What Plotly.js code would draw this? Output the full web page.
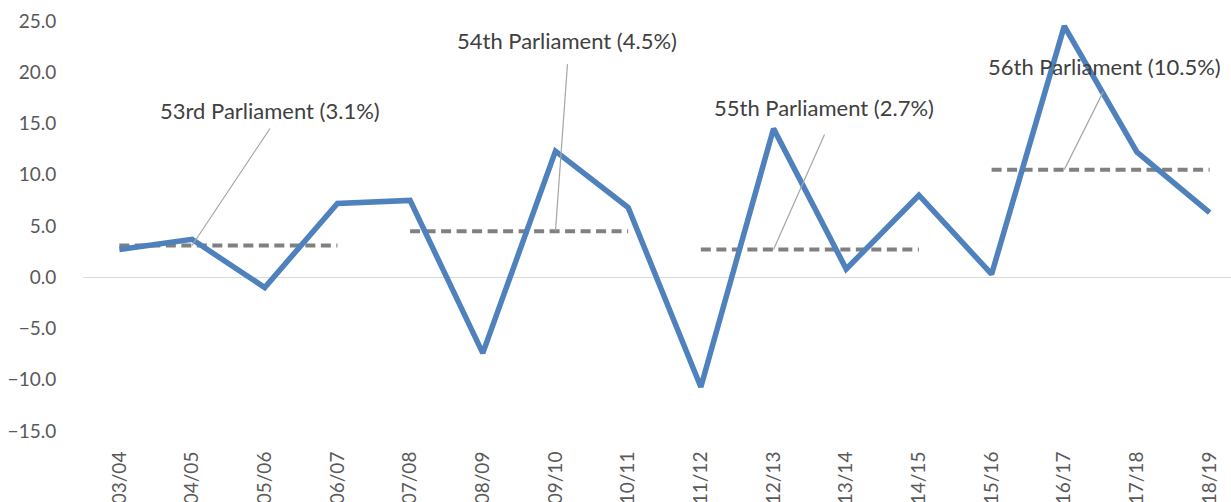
<!DOCTYPE html>
<html>
<head>
<meta charset="utf-8">
<script src="https://cdn.plot.ly/plotly-3.0.1.min.js"></script>
<style>
  html, body { margin: 0; padding: 0; overflow: hidden; background: #fff; }
  #chart { width: 1280px; height: 540px; }
</style>
</head>
<body>
<div id="chart"></div>
<script>
const years = ["2003/04","2004/05","2005/06","2006/07","2007/08","2008/09","2009/10","2010/11",
               "2011/12","2012/13","2013/14","2014/15","2015/16","2016/17","2017/18","2018/19"];
const growth = [2.7, 3.7, -1.0, 7.2, 7.5, -7.4, 12.3, 6.8, -10.7, 14.5, 0.8, 8.0, 0.3, 24.5, 12.2, 6.3];

const parliamentNames = ["53rd Parliament", "54th Parliament", "55th Parliament", "56th Parliament"];
const parliamentFirst = [0, 4, 8, 12];
const parliamentLast  = [3, 7, 11, 15];
const parliamentAvg   = [3.1, 4.5, 2.7, 10.5];
const labelAnchorYear = ["2004/05", "2009/10", "2012/13", "2016/17"];

// label placement (pixel offsets from the anchor point) – style, not data
const leaderDx = [78, 12, 51, 39];
const leaderDy = [117, 167, 115, 78];
const textDx   = [78, 12, 50, 40];
const textDy   = [135, 191, 142, 103];

const FONT = "Lato, 'Open Sans', sans-serif";

const traces = [];
parliamentNames.forEach((n, i) => {
  const xs = years.slice(parliamentFirst[i], parliamentLast[i] + 1);
  traces.push({
    x: xs,
    y: xs.map(() => parliamentAvg[i]),
    type: "scatter",
    mode: "lines",
    line: { color: "#808080", width: 4, dash: "10px,5.5px" },
    hoverinfo: "skip",
    showlegend: false
  });
});
traces.push({
  x: years,
  y: growth,
  type: "scatter",
  mode: "lines",
  line: { color: "#4f81bd", width: 5.5 },
  showlegend: false
});

const shapes = parliamentNames.map((n, i) => ({
  type: "line",
  xref: "x", yref: "y",
  xsizemode: "pixel", ysizemode: "pixel",
  xanchor: labelAnchorYear[i], yanchor: parliamentAvg[i],
  x0: 0, y0: 0, x1: leaderDx[i], y1: leaderDy[i],
  line: { color: "#a6a6a6", width: 1.2 }
}));

const annotations = parliamentNames.map((n, i) => ({
  x: labelAnchorYear[i], y: parliamentAvg[i],
  xref: "x", yref: "y",
  text: n + " (" + parliamentAvg[i].toFixed(1) + "%)",
  showarrow: false,
  xshift: textDx[i], yshift: textDy[i],
  xanchor: "center", yanchor: "middle",
  font: { family: FONT, size: 22, color: "#404040" }
}));

const layout = {
  width: 1280, height: 540,
  margin: { l: 82.6, r: 33.6, t: 21, b: 109 },
  paper_bgcolor: "#fff", plot_bgcolor: "#fff",
  showlegend: false,
  xaxis: {
    type: "category",
    range: [-0.5, 15.5],
    showgrid: false, zeroline: false, showline: false,
    tickangle: -90,
    ticks: "outside", ticklen: 12, tickcolor: "rgba(0,0,0,0)",
    tickfont: { family: FONT, size: 19, color: "#595959" },
    automargin: false
  },
  yaxis: {
    range: [-15, 25],
    dtick: 5, tick0: 0,
    tickformat: ".1f",
    showgrid: false, showline: false,
    zeroline: true, zerolinecolor: "#d9d9d9", zerolinewidth: 1.5,
    ticks: "outside", ticklen: 22, tickcolor: "rgba(0,0,0,0)",
    tickfont: { family: FONT, size: 19, color: "#595959" },
    automargin: false
  },
  shapes: shapes,
  annotations: annotations
};

Plotly.newPlot("chart", traces, layout, { staticPlot: true, displayModeBar: false });
</script>
</body>
</html>
